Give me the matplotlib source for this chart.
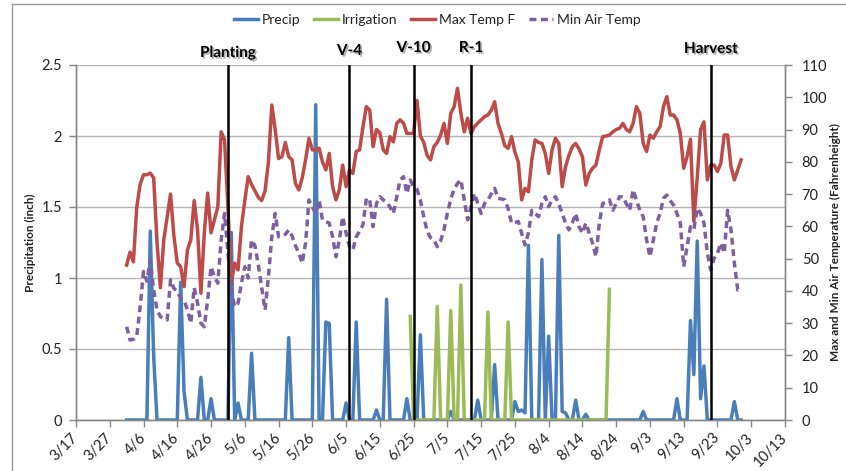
import matplotlib
matplotlib.use("Agg")
import matplotlib.pyplot as plt
import matplotlib.transforms as mtransforms
import matplotlib.patheffects as pe
from matplotlib.lines import Line2D
import pandas as pd

plt.rcParams['font.family'] = ['Lato', 'DejaVu Sans']

YEAR = 2013

# ---------------- data ----------------
x_tick_labels = ["3/17", "3/27", "4/6", "4/16", "4/26", "5/6", "5/16", "5/26",
                 "6/5", "6/15", "6/25", "7/5", "7/15", "7/25", "8/4", "8/14",
                 "8/24", "9/3", "9/13", "9/23", "10/3", "10/13"]
left_ticks = [0, 0.5, 1, 1.5, 2, 2.5]
left_tick_labels = ["0", "0.5", "1", "1.5", "2", "2.5"]
right_ticks = [0, 10, 20, 30, 40, 50, 60, 70, 80, 90, 100, 110]

series_start = "4/1"  # first day of the daily weather record

precip_dates = ["4/8", "4/9", "4/17", "4/18", "4/23", "4/26", "5/2", "5/4", "5/8",
                "5/19", "5/27", "5/30", "5/31", "6/5", "6/8", "6/14", "6/17",
                "6/23", "6/27", "7/6", "7/14", "7/19", "7/25", "7/26", "7/27",
                "7/28", "7/29", "8/2", "8/4", "8/7", "8/8", "8/9", "8/12",
                "8/15", "9/1", "9/11", "9/15", "9/16", "9/17", "9/18", "9/19",
                "9/28"]
precip_inch = [1.33, 0.45, 0.97, 0.2, 0.30, 0.15, 1.32, 0.12, 0.47,
               0.58, 2.22, 0.69, 0.68, 0.12, 0.69, 0.07, 0.85,
               0.15, 0.60, 0.06, 0.14, 0.39, 0.13, 0.06, 0.07,
               0.05, 1.23, 1.13, 0.59, 1.30, 0.06, 0.05, 0.14,
               0.04, 0.06, 0.15, 0.70, 0.32, 1.26, 0.15, 0.38,
               0.13]

irrigation_start = "6/24"
irrigation_end = "8/22"
irrigation_dates = ["6/24", "7/2", "7/6", "7/9", "7/17", "7/23", "8/22"]
irrigation_inch = [0.73, 0.80, 0.77, 0.95, 0.76, 0.69, 0.92]

max_temp_f = [48, 52, 49, 66, 73, 76, 76, 76.5, 75, 55,
              41, 55.8, 63, 70, 57, 48.6, 47.5, 41.3, 52.7, 55.8,
              68, 59, 39.3, 58, 70.3, 58, 62, 66, 89.3, 86.8,
              66, 42.4, 48.6, 46.5, 60, 68, 75.4, 73, 71, 69,
              68, 71, 80, 97.6, 90, 81, 81.6, 86, 81.6, 80.6,
              73.3, 71.3, 75, 80.6, 87.3, 83.7, 83.7, 84.2, 80, 77.5,
              82.6, 72.3, 68.2, 71.3, 79, 72.3, 77.5, 76.4, 83.2, 83.7,
              90.9, 97.1, 96, 84.7, 90, 89, 83.7, 82.6, 87.8, 86.2,
              91.9, 93, 92, 88.8, 88.8, 88.8, 99, 88, 86, 82,
              80.6, 84.7, 86, 88.3, 91.9, 85.7, 95, 97.1, 102.8, 95,
              89.3, 93.5, 88.8, 90.9, 92, 93, 94, 94.5, 96, 98.6,
              91.9, 88.8, 85, 84.2, 87.8, 83, 80, 68.2, 71.8, 70.7,
              80.6, 86.8, 86, 85.7, 82.6, 76.4, 83.7, 87.3, 85.7, 72.3,
              78.5, 82, 84.7, 85.7, 84, 81.6, 72.8, 76.4, 78, 79,
              83.7, 87.8, 88, 88.3, 89.3, 90, 90.4, 91.9, 90, 89.3,
              91.9, 97.1, 95, 85.7, 83.2, 88.3, 87.3, 89.3, 90.9, 97.1,
              100.2, 94.5, 94.5, 93, 88.8, 78, 81.6, 87, 61.5, 75,
              90, 92.4, 74.4, 79, 79, 77, 79.5, 88.3, 88.3, 78.5,
              74.4, 77.5, 80.6]

min_temp_f = [28.9, 24.8, 25, 26, 35, 46, 43, 49.6, 40.3, 34.1,
              32, 31.5, 31, 43.4, 40.8, 39.8, 37.7, 37.2, 34.1, 30,
              41, 36.2, 30, 28.9, 37.2, 47.5, 44.4, 42.4, 55.8, 64,
              52, 40, 35.1, 36.2, 42.4, 47.5, 44, 55.8, 54, 48,
              41, 34.1, 44.4, 56.8, 64, 56.8, 57, 57.5, 58.9, 57,
              54, 51.7, 48.6, 54.8, 68.2, 66, 64, 68.2, 62, 61.5,
              61, 56.8, 50.6, 55.8, 63, 57.9, 53.7, 52.7, 56.8, 58.5,
              60.5, 68.7, 68.2, 59.9, 67.1, 69.2, 68.2, 67.5, 66, 64,
              69.2, 74.4, 75.4, 70.2, 74.4, 72.3, 71.5, 68, 63, 58.5,
              56.5, 55.8, 53.7, 55.5, 59, 64, 68.5, 71.5, 73.3, 74.4,
              68.2, 62, 66.1, 70.2, 67.1, 64, 67.1, 68.2, 70, 71.8,
              68.7, 68.5, 68.2, 65.5, 61, 61.2, 61.5, 57.9, 54.2, 57.9,
              65, 64, 63, 67.1, 69.2, 66.1, 68.2, 69.2, 67, 64,
              61, 58.9, 61, 64, 59.9, 57.9, 61, 57.9, 54.8, 50.6,
              61, 67.1, 67.5, 68.2, 65, 67, 69.2, 69.2, 67, 65,
              71.3, 68.2, 65, 63, 55.8, 50.6, 55.8, 61, 64, 68.7,
              69.7, 68, 66.6, 64, 61, 47.5, 53.7, 59.9, 59, 65.6,
              64, 61, 51.7, 46.5, 50.1, 51.7, 54.8, 51.7, 65, 58.9,
              48.6, 40.3, 40.8]

stage_labels = ["Planting", "V-4", "V-10", "R-1", "Harvest"]
stage_dates = ["5/1", "6/6", "6/25", "7/12", "9/21"]
stage_label_px = [57, 55, 52, 52, 53]  # baseline heights of the stage labels (pixels from top)


def to_date(md):
    m, d = md.split("/")
    return pd.Timestamp(year=YEAR, month=int(m), day=int(d))


# build daily series
days = pd.date_range(to_date(series_start), periods=len(max_temp_f), freq="D")
precip = pd.Series(0.0, index=days)
for d, v in zip(precip_dates, precip_inch):
    precip[to_date(d)] = v
irr_days = pd.date_range(to_date(irrigation_start), to_date(irrigation_end), freq="D")
irrigation = pd.Series(0.0, index=irr_days)
for d, v in zip(irrigation_dates, irrigation_inch):
    irrigation[to_date(d)] = v

# ---------------- figure ----------------
W, H = 846, 471
fig = plt.figure(figsize=(W / 100, H / 100), dpi=100)
fig.patch.set_facecolor("white")

L, R, T, B = 76, 785, 65, 420
ax = fig.add_axes([L / W, 1 - B / H, (R - L) / W, (B - T) / H])
ax2 = ax.twinx()

c_precip = "#4A7EBB"
c_irr = "#9BBB59"
c_max = "#BE4B48"
c_min = "#7D60A0"
lw = 2.5
dash = (0, (2.0, 1.3))

ax.plot(precip.index, precip.values, color=c_precip, lw=lw, solid_joinstyle="round", zorder=3)
ax.plot(irrigation.index, irrigation.values, color=c_irr, lw=lw, solid_joinstyle="round", zorder=3)
ax2.plot(days, max_temp_f, color=c_max, lw=lw, solid_joinstyle="round", zorder=3)
ax2.plot(days, min_temp_f, color=c_min, lw=lw, linestyle=dash, zorder=3)

x0, x1 = to_date(x_tick_labels[0]), to_date(x_tick_labels[-1])
ax.set_xlim(x0, x1)
ax.set_ylim(0, 2.5)
ax2.set_ylim(0, 110)

tick_color = "#888888"
text_color = "#222222"

ax.set_xticks([to_date(t) for t in x_tick_labels])
ax.set_xticklabels(x_tick_labels, rotation=45, ha="right", va="center",
                   rotation_mode="anchor")
ax.set_yticks(left_ticks)
ax.set_yticklabels(left_tick_labels)
ax2.set_yticks(right_ticks)
ax2.set_yticklabels([str(v) for v in right_ticks])

ax.tick_params(axis="x", direction="out", length=5, width=1, color=tick_color,
               labelsize=10.5, labelcolor=text_color, pad=6)
ax.tick_params(axis="y", direction="out", length=5, width=1, color=tick_color,
               labelsize=10.5, labelcolor=text_color, pad=5)
ax2.tick_params(axis="y", direction="out", length=5, width=1, color=tick_color,
                labelsize=10.5, labelcolor=text_color, pad=7)

ax.grid(axis="y", color="#B5B5B5", lw=1)
ax.set_axisbelow(True)
for a in (ax, ax2):
    a.spines["top"].set_visible(False)
    for s in ("left", "right", "bottom"):
        a.spines[s].set_color(tick_color)
        a.spines[s].set_linewidth(1)

ax.set_ylabel("Precipitation (inch)", fontsize=8.5, fontweight="bold", color=text_color)
ax.yaxis.set_label_coords((36 - L) / (R - L), 0.5)
ax2.set_ylabel("Max and Min Air Temperature (Fahrenheight)", fontsize=8.5,
               fontweight="bold", color=text_color)
ax2.yaxis.set_label_coords((830 - L) / (R - L), 0.5)

# growth stage markers
blend = mtransforms.blended_transform_factory(ax2.transData, fig.transFigure)
for lab, d, ypx in zip(stage_labels, stage_dates, stage_label_px):
    ax2.axvline(to_date(d), color="black", lw=1.8, zorder=10)
    ax2.text(to_date(d), 1 - ypx / H, lab, transform=blend, ha="center", va="baseline",
             fontsize=11, fontweight="bold", color="black",
             path_effects=[pe.withSimplePatchShadow(offset=(1.2, -1.2),
                                                    shadow_rgbFace="#777777", alpha=0.6)])

# legend
handles = [Line2D([], [], color=c_precip, lw=lw),
           Line2D([], [], color=c_irr, lw=lw),
           Line2D([], [], color=c_max, lw=lw),
           Line2D([], [], color=c_min, lw=lw, linestyle=dash)]
labels = ["Precip", "Irrigation", "Max Temp F", "Min Air Temp"]
fig.legend(handles, labels, loc="center", bbox_to_anchor=(437 / W, 1 - 20 / H),
           ncol=4, frameon=False, fontsize=10, handlelength=1.75, handletextpad=0.25,
           columnspacing=1.0, labelcolor=text_color)

# chart-area border
fig.add_artist(Line2D([12 / W, 12 / W], [0, 1 - 4 / H], transform=fig.transFigure,
                      color="#999999", lw=1))
fig.add_artist(Line2D([12 / W, 1], [1 - 4 / H, 1 - 4 / H], transform=fig.transFigure,
                      color="#999999", lw=1))

fig.savefig("out.png", dpi=100, facecolor="white")
